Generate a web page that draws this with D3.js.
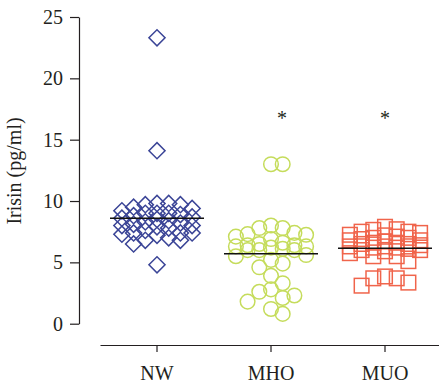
<!DOCTYPE html>
<html>
<head>
<meta charset="utf-8">
<script src="https://d3js.org/d3.v7.min.js"></script>
<style>
  body { margin: 0; background: #fff; }
  text { font-family: "Liberation Serif", "DejaVu Serif", serif; fill: #231f20; }
  .axis path, .axis line { stroke: #231f20; stroke-width: 1.2; }
  .axis text { font-size: 20px; }
</style>
</head>
<body>
<script>
const groups = ['NW', 'MHO', 'MUO']

// irisin values (pg/ml)
const nw = [23.3, 14.1, 9.8, 9.8, 9.7, 9.7, 9.5, 9.4, 9.2, 9.0, 9.0, 9.0, 8.9, 8.8, 8.7, 8.6,
  8.5, 8.4, 8.3, 8.2, 8.1, 8.0, 8.0, 7.9, 7.8, 7.6, 7.4, 7.4, 7.4, 7.3, 7.2, 7.0, 6.8, 6.8, 6.5, 4.8]
const mho = [13.0, 13.0, 8.0, 7.8, 7.8, 7.4, 7.3, 7.25, 7.1, 6.9, 6.6, 6.5, 6.4, 6.4, 6.3, 6.3,
  6.2, 6.1, 6.0, 6.0, 6.0, 5.6, 5.5, 5.2, 4.9, 4.6, 3.9, 3.3, 2.8, 2.6, 2.3, 2.1, 1.8, 1.2, 0.8]
const muo = [7.9, 7.7, 7.65, 7.5, 7.5, 7.4, 7.25, 7.2, 7.1, 7.0, 7.0, 6.9, 6.8, 6.8, 6.7, 6.6,
  6.6, 6.5, 6.5, 6.4, 6.3, 6.3, 6.2, 6.2, 6.1, 6.0, 6.0, 5.9, 5.75, 5.5, 5.5, 5.1, 3.85, 3.7, 3.7, 3.35, 3.1]
const centers = [8.6, 5.7, 6.15]
const marks = ['', '*', '*']
const yTicks = [0, 5, 10, 15, 20, 25]

const colors = ['#3b4597', '#c5dc5b', '#f0644b']
const width = 439, height = 387

const svg = d3.select('body').append('svg')
  .attr('width', width)
  .attr('height', height)

const y = d3.scaleLinear().domain([0, 25]).range([323.7, 17])
const x = d3.scaleBand().domain(groups).range([100, 442])

svg.append('g')
  .attr('class', 'axis')
  .attr('transform', 'translate(79,0)')
  .call(d3.axisLeft(y).tickValues(yTicks).tickSize(9).tickSizeOuter(0).tickPadding(7))
  .attr('font-family', null).attr('font-size', null)

svg.append('g')
  .attr('class', 'axis')
  .attr('transform', 'translate(0,345)')
  .call(d3.axisBottom(x).tickSize(7).tickSizeOuter(0).tickPadding(14))
  .attr('font-family', null).attr('font-size', null)

svg.append('text')
  .attr('transform', 'translate(21,171) rotate(-90)')
  .attr('text-anchor', 'middle')
  .style('font-size', '20px')
  .text('Irisin (pg/ml)')

// simple beeswarm: put each point into the nearest free column
function swarm(values, step, gap) {
  const slots = [0, 1, -1, 2, -2, 3, -3]
  const placed = []
  return values.map(v => {
    const py = y(v)
    let best = 0, bestD = -1
    for (const s of slots) {
      const near = placed.filter(p => p.s === s).map(p => Math.abs(p.py - py))
      const d = near.length ? d3.min(near) : Infinity
      if (d >= gap) { best = s; bestD = d; break }
      if (d > bestD) { bestD = d; best = s }
    }
    placed.push({ s: best, py })
    return { v, dx: best * step }
  })
}

const sets = [nw, mho, muo]
const diamond = d3.symbol().type(d3.symbolSquare).size(130)

sets.forEach((vals, i) => {
  const cx = x(groups[i]) + x.bandwidth() / 2
  const pts = swarm(vals, 11.7, 13)
  const g = svg.append('g')
    .attr('fill', 'none')
    .attr('stroke', colors[i])
    .attr('stroke-width', 1.5)
  if (i === 0) {
    g.selectAll('path').data(pts).enter().append('path')
      .attr('d', diamond)
      .attr('transform', d => 'translate(' + (cx + d.dx) + ',' + y(d.v) + ') rotate(45)')
  } else if (i === 1) {
    g.selectAll('circle').data(pts).enter().append('circle')
      .attr('cx', d => cx + d.dx)
      .attr('cy', d => y(d.v))
      .attr('r', 7.3)
  } else {
    g.selectAll('rect').data(pts).enter().append('rect')
      .attr('x', d => cx + d.dx - 7.3)
      .attr('y', d => y(d.v) - 7.3)
      .attr('width', 14.6)
      .attr('height', 14.6)
  }
  svg.append('line')
    .attr('x1', cx - 47).attr('x2', cx + 47)
    .attr('y1', y(centers[i])).attr('y2', y(centers[i]))
    .attr('stroke', '#111').attr('stroke-width', 1.6)
  svg.append('text')
    .attr('x', cx + (i === 1 ? 11 : 0))
    .attr('y', y(16.2))
    .attr('text-anchor', 'middle')
    .style('font-size', '20px')
    .text(marks[i])
})
</script>
</body>
</html>
